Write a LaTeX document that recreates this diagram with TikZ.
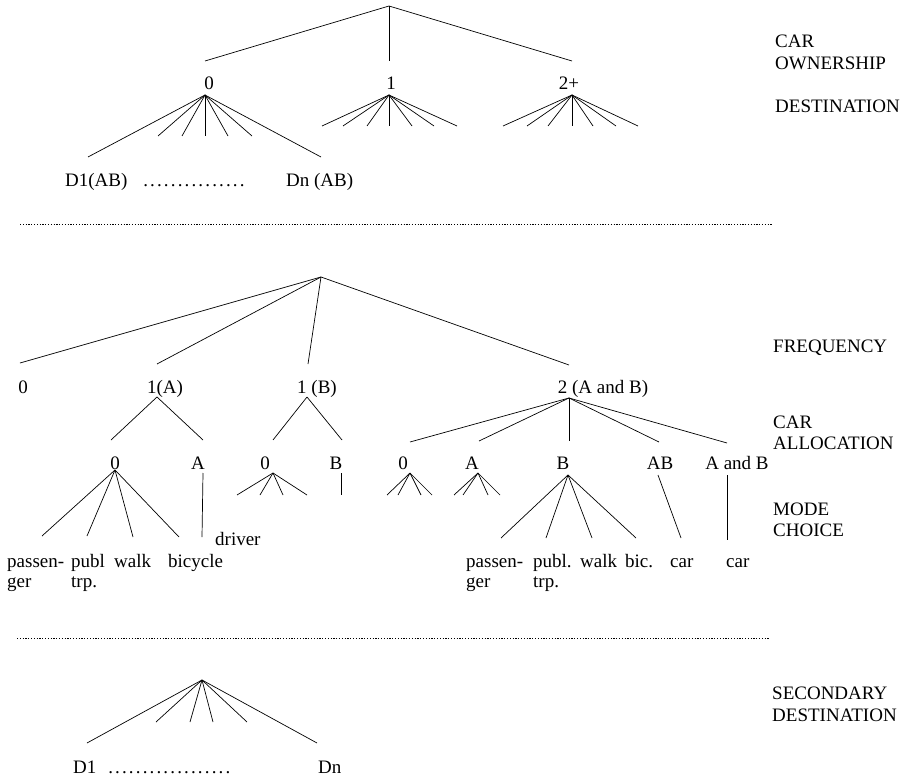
\documentclass[tikz,border=0pt]{standalone}
\usepackage{fontspec}
\setmainfont{Liberation Serif}
\newcommand\dotrow[1]{\hbox to #1{\leaders\hbox to 6.9pt{\hss.\hss}\hfill}}
\begin{document}
\begin{tikzpicture}[x=1pt,y=-1pt,
  font=\fontsize{19}{22}\selectfont,
  lbl/.style={inner sep=0pt, anchor=base},
  lblw/.style={inner sep=0pt, anchor=base west},
  edge/.style={line width=0.7pt},
  sepline/.style={line width=0.7pt, dash pattern=on 1.2pt off 1.6pt}]
\useasboundingbox (0,0) rectangle (910,778);

% ---------------- top section: car ownership / destination
\node[lbl] (co0) at (209,90) {0};
\node[lbl] (co1) at (391,90) {1};
\node[lbl] (co2) at (569,90) {2+};
\coordinate (R0) at (389,6);
\coordinate (R0a) at (205,61);
\coordinate (R0b) at (389,61);
\coordinate (R0c) at (572,61);
\draw[edge] (R0) -- (R0a);
\draw[edge] (R0) -- (R0b);
\draw[edge] (R0) -- (R0c);

\coordinate (A0) at (205,95);
\coordinate (A0l) at (88,157);
\coordinate (A0r) at (321,157);
\draw[edge] (A0) -- (A0l);
\draw[edge] (A0) -- (A0r);
\foreach \x [count=\i] in {158,182,205,228,252}{
  \coordinate (A0e\i) at (\x,136);
  \draw[edge] (A0) -- (A0e\i);
}
\coordinate (A1) at (389,95);
\foreach \x [count=\i] in {322,343,367,389,412,434,457}{
  \coordinate (A1e\i) at (\x,126);
  \draw[edge] (A1) -- (A1e\i);
}
\coordinate (A2) at (572,95);
\foreach \x [count=\i] in {503,527,548,572,593,616,638}{
  \coordinate (A2e\i) at (\x,126);
  \draw[edge] (A2) -- (A2e\i);
}
\node[lblw] (d1ab) at (65,187) {D1(AB)};
\node[lblw] (dotsab) at (142,187) {\dotrow{110pt}};
\node[lblw] (dnab) at (286,187) {Dn (AB)};

\node[lblw] (lcar1) at (775,48) {CAR};
\node[lblw] (lown) at (775,70) {OWNERSHIP};
\node[lblw] (ldest) at (775,113) {DESTINATION};

% separator
\coordinate (s1a) at (20,224);
\coordinate (s1b) at (773,224);
\draw[sepline] (s1a) -- (s1b);

% ---------------- middle section: frequency / car allocation / mode
\coordinate (M) at (321,277);
\coordinate (Ma) at (20,363);
\coordinate (Mb) at (157,364);
\coordinate (Mc) at (308,364);
\coordinate (Md) at (569,365);
\foreach \e in {Ma,Mb,Mc,Md}{\draw[edge] (M) -- (\e);}

\node[lbl] (f0) at (23,393) {0};
\node[lbl] (f1a) at (165,393) {1(A)};
\node[lbl] (f1b) at (317,393) {1 (B)};
\node[lbl] (f2) at (603,393) {2 (A and B)};

% 1(A)
\coordinate (P1A) at (157,397);
\coordinate (P1Aa) at (111,440);
\coordinate (P1Ab) at (203,440);
\draw[edge] (P1A) -- (P1Aa);
\draw[edge] (P1A) -- (P1Ab);
% 1(B)
\coordinate (P1B) at (307,397);
\coordinate (P1Ba) at (273,440);
\coordinate (P1Bb) at (342,440);
\draw[edge] (P1B) -- (P1Ba);
\draw[edge] (P1B) -- (P1Bb);
% 2 (A and B)
\coordinate (P2) at (569,398);
\coordinate (P2a) at (410,442);
\coordinate (P2b) at (479,441);
\coordinate (P2c) at (569,441);
\coordinate (P2d) at (659,442);
\coordinate (P2e) at (727,443);
\foreach \e in {P2a,P2b,P2c,P2d,P2e}{\draw[edge] (P2) -- (\e);}

\node[lbl] (ca0) at (115,469) {0};
\node[lbl] (caA) at (198,469) {A};
\node[lbl] (cb0) at (265,469) {0};
\node[lbl] (cbB) at (336,469) {B};
\node[lbl] (cc0) at (403,469) {0};
\node[lbl] (ccA) at (472,469) {A};
\node[lbl] (ccB) at (563,469) {B};
\node[lbl] (ccAB) at (660,469) {AB};
\node[lbl] (ccAaB) at (737,469) {A and B};

% mode fans
\coordinate (Q0) at (115,470);
\foreach \x/\y [count=\i] in {42/536,87/536,133/537,179/537}{
  \coordinate (Q0e\i) at (\x,\y);
  \draw[edge] (Q0) -- (Q0e\i);
}
\coordinate (QA) at (203,473);
\coordinate (QAe) at (202,537);
\draw[edge] (QA) -- (QAe);

\coordinate (QB0) at (273,473);
\foreach \x [count=\i] in {237,260,283,307}{
  \coordinate (QB0e\i) at (\x,495);
  \draw[edge] (QB0) -- (QB0e\i);
}
\coordinate (QBB) at (341,473);
\coordinate (QBBe) at (341,495);
\draw[edge] (QBB) -- (QBBe);

\coordinate (QC0) at (410,473);
\foreach \x [count=\i] in {387,398,421,432}{
  \coordinate (QC0e\i) at (\x,495);
  \draw[edge] (QC0) -- (QC0e\i);
}
\coordinate (QCA) at (478,473);
\foreach \x [count=\i] in {454,463,488,500}{
  \coordinate (QCAe\i) at (\x,495);
  \draw[edge] (QCA) -- (QCAe\i);
}
\coordinate (QCB) at (568,475);
\foreach \x [count=\i] in {501,546,592,636}{
  \coordinate (QCBe\i) at (\x,538);
  \draw[edge] (QCB) -- (QCBe\i);
}
\coordinate (QAB) at (658,475);
\coordinate (QABe) at (681,538);
\draw[edge] (QAB) -- (QABe);
\coordinate (QAaB) at (727,475);
\coordinate (QAaBe) at (727,540);
\draw[edge] (QAaB) -- (QAaBe);

% mode labels
\node[lblw] (mdrv) at (215,545) {driver};
\node[lblw] (m1) at (7,567) {passen-};
\node[lblw] (m1b) at (7,587) {ger};
\node[lblw] (m2) at (71,567) {publ};
\node[lblw] (m2b) at (71,587) {trp.};
\node[lblw] (m3) at (114,567) {walk};
\node[lblw] (m4) at (168,567) {bicycle};

\node[lblw] (n1) at (466,567) {passen-};
\node[lblw] (n1b) at (466,587) {ger};
\node[lblw] (n2) at (533,567) {publ.};
\node[lblw] (n2b) at (533,587) {trp.};
\node[lblw] (n3) at (580,567) {walk};
\node[lblw] (n4) at (625,567) {bic.};
\node[lblw] (n5) at (670,567) {car};
\node[lblw] (n6) at (726,567) {car};

\node[lblw] (lfreq) at (773,352) {FREQUENCY};
\node[lblw] (lcar2) at (773,428) {CAR};
\node[lblw] (lalloc) at (773,449) {ALLOCATION};
\node[lblw] (lmode) at (773,515) {MODE};
\node[lblw] (lchoice) at (773,536) {CHOICE};

% separator
\coordinate (s2a) at (17,638);
\coordinate (s2b) at (770,638);
\draw[sepline] (s2a) -- (s2b);

% ---------------- bottom section: secondary destination
\coordinate (S) at (202,680);
\coordinate (Sl) at (87,743);
\coordinate (Sr) at (317,743);
\draw[edge] (S) -- (Sl);
\draw[edge] (S) -- (Sr);
\foreach \x [count=\i] in {156,190,213,247}{
  \coordinate (Se\i) at (\x,722);
  \draw[edge] (S) -- (Se\i);
}
\node[lblw] (sd1) at (73,773) {D1};
\node[lblw] (sdots) at (107,773) {\dotrow{126pt}};
\node[lblw] (sdn) at (318,773) {Dn};

\node[lblw] (lsec) at (772,699) {SECONDARY};
\node[lblw] (ldest2) at (772,721) {DESTINATION};
\end{tikzpicture}
\end{document}
